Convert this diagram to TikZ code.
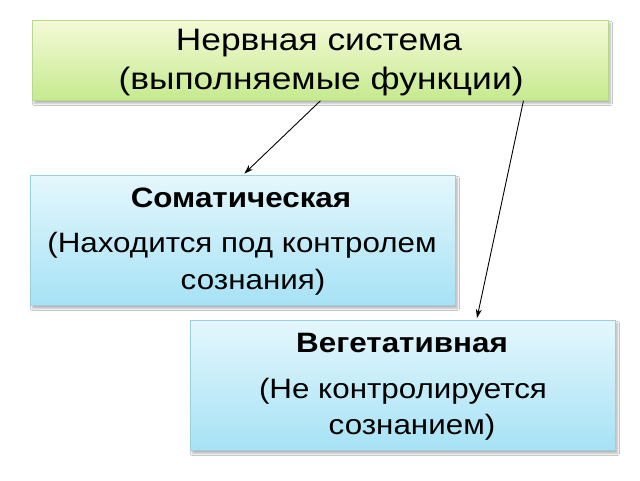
\documentclass[tikz,border=0pt]{standalone}
\usepackage{fontspec}
\setmainfont{Liberation Sans}
\usetikzlibrary{calc,shadows.blur,arrows.meta}
\definecolor{gtop}{HTML}{F4FAD8}
\definecolor{gbot}{HTML}{C6EA8E}
\definecolor{gline}{HTML}{B8D890}
\definecolor{btop}{HTML}{E4F7FC}
\definecolor{bbot}{HTML}{A6E2F5}
\definecolor{bline}{HTML}{9ACFE0}
\newcommand{\wideA}[1]{\scalebox{1.14}[1]{#1}}
\newcommand{\wideB}[1]{\scalebox{1.12}[1]{#1}}
\tikzset{
  greenbox/.style={draw=gline, line width=0.8pt, top color=gtop, bottom color=gbot, anchor=north west, inner sep=0pt,
    blur shadow={shadow xshift=2pt, shadow yshift=-3pt, shadow blur steps=6, shadow opacity=30}},
  bluebox/.style={draw=bline, line width=0.8pt, top color=btop, bottom color=bbot, anchor=north west, inner sep=0pt,
    blur shadow={shadow xshift=2pt, shadow yshift=-3pt, shadow blur steps=6, shadow opacity=30}},
  bigtxt/.style={font=\fontsize{31}{36}\selectfont, inner sep=0pt, anchor=base},
  midtxt/.style={font=\fontsize{28}{33}\selectfont, inner sep=0pt, anchor=base},
  boldtxt/.style={font=\fontsize{28}{33}\selectfont\bfseries, inner sep=0pt, anchor=base},
  conn/.style={-{Stealth[length=9pt,width=6pt]}, line width=0.9pt, black, shorten >=2pt}
}
\begin{document}
\begin{tikzpicture}[x=1pt,y=-1pt]
\useasboundingbox (0,0) rectangle (640,480);
\fill[white] (0,0) rectangle (640,480);
\node[greenbox, minimum width=576pt, minimum height=80pt] (top) at (32,20) {};
\node[bluebox, minimum width=425pt, minimum height=130pt] (soma) at (30,175) {};
\node[bluebox, minimum width=425pt, minimum height=130pt] (veg) at (190,320) {};
\node[bigtxt] (t1) at (319,50) {\wideA{Нервная система}};
\node[bigtxt] (t2) at (321,89) {\wideA{(выполняемые функции)}};
\node[boldtxt] (s1) at (241,207) {\wideB{Соматическая}};
\node[midtxt] (s2) at (242,252) {\wideB{(Находится под контролем}};
\node[midtxt] (s3) at (253,289) {\wideB{сознания)}};
\node[boldtxt] (v1) at (402,352) {\wideB{Вегетативная}};
\node[midtxt] (v2) at (403,398) {\wideB{(Не контролируется}};
\node[midtxt] (v3) at (412,434) {\wideB{сознанием)}};
\draw[conn] (top.south) -- (soma.north);
\draw[conn] ($(top.south west)!0.852!(top.south east)$) -- ($(veg.north west)!0.673!(veg.north east)$);
\end{tikzpicture}
\end{document}
